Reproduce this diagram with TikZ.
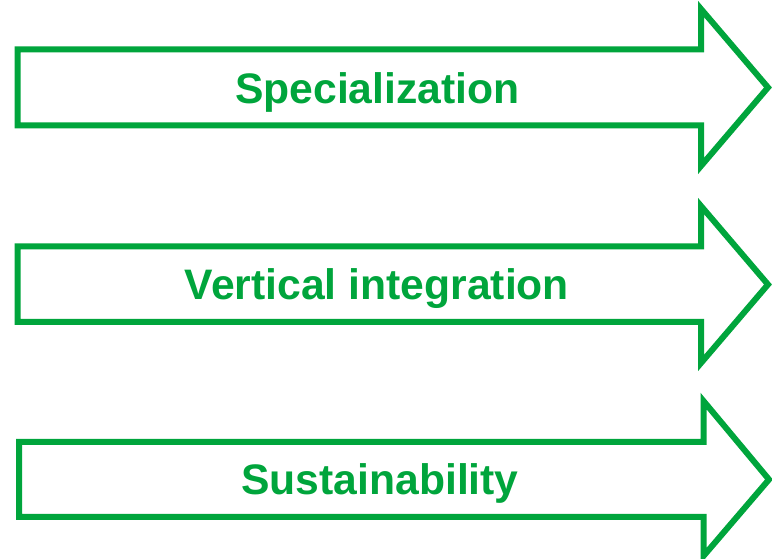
\documentclass[tikz,border=0pt]{standalone}
\usepackage{fontspec}
\setmainfont{Liberation Sans}
\definecolor{arrowgreen}{RGB}{0,165,60}
\tikzset{
  arrowshape/.style={draw=arrowgreen, line width=4.5pt, line join=miter, fill=white},
  label/.style={text=arrowgreen, font=\fontsize{32}{36}\selectfont\bfseries, anchor=base, inner sep=0pt}
}
\begin{document}
\begin{tikzpicture}[x=0.75pt, y=-0.75pt]
\useasboundingbox (0,0) rectangle (772,559);
% arrow 1
\draw[arrowshape] (17.5,49.5) -- (701,49.5) -- (701,9) -- (768,87.5) -- (701,166) -- (701,125.5) -- (17.5,125.5) -- cycle;
% arrow 2
\draw[arrowshape] (17.5,246.5) -- (701,246.5) -- (701,206) -- (768,284.5) -- (701,363) -- (701,322) -- (17.5,322) -- cycle;
% arrow 3
\draw[arrowshape] (19,442) -- (703.5,442) -- (703.5,401) -- (769,479.5) -- (703.5,556) -- (703.5,517) -- (19,517) -- cycle;
\node[label] (t1) at (377.3,104) {Specialization};
\node[label] (t2) at (377,299.3) {Vertical integration};
\node[label] (t3) at (380,495) {Sustainability};
\end{tikzpicture}
\end{document}
